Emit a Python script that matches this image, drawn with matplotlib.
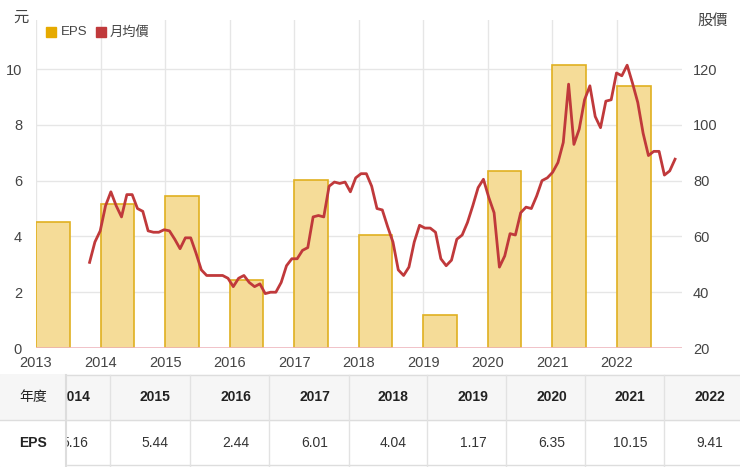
import matplotlib
matplotlib.use("Agg")
import matplotlib.pyplot as plt
from matplotlib.patches import Rectangle
import numpy as np

plt.rcParams['font.family'] = ['Liberation Sans', 'Noto Sans CJK TC', 'DejaVu Sans']

years = [2013, 2014, 2015, 2016, 2017, 2018, 2019, 2020, 2021, 2022]
eps = [4.52, 5.16, 5.44, 2.44, 6.01, 4.04, 1.17, 6.35, 10.15, 9.41]
price = [50.7, 58, 62, 71, 76, 71, 67, 75, 75, 70, 69, 62, 61.5, 61.5, 62.4, 62,
         59, 55.6, 59.5, 59.5, 54, 48, 46, 46, 46, 46, 45, 42, 45, 46, 43.5, 42,
         43, 39.5, 40, 40, 43.5, 49.5, 52, 52, 55, 56, 67, 67.5, 67, 78, 79.5, 79,
         79.5, 76, 81, 82.5, 82.5, 78, 70, 69.5, 63.5, 58, 48, 46, 49, 58, 64, 63,
         63, 61.5, 52, 49.5, 51.5, 59, 60.5, 65, 71, 77.5, 80.5, 74, 68.5, 49, 53,
         61, 60.5, 68.5, 70.5, 70, 74.5, 80, 81, 83, 86.5, 93.7, 114.6, 93, 98.5,
         109, 114, 103, 99, 108.5, 109, 118.6, 117.6, 121.4, 115, 108, 97, 89,
         90.5, 90.5, 82, 83.5, 87.7]
price_start, price_end = 2013.83, 2022.9
tbl_years = ['2014', '2015', '2016', '2017', '2018', '2019', '2020', '2021', '2022']
tbl_eps = ['5.16', '5.44', '2.44', '6.01', '4.04', '1.17', '6.35', '10.15', '9.41']

W, H = 740, 467
fig = plt.figure(figsize=(7.4, 4.67), dpi=100)
fig.patch.set_facecolor('white')

def box(l, t, r, b):
    return [l / W, 1 - b / H, (r - l) / W, (b - t) / H]

ax = fig.add_axes(box(36, 20, 682, 348))
ymax = 11.76
ax.set_ylim(0, ymax)
ax.set_xlim(2013, 2022 + (682 - 617) / 64.5)
ax.bar(np.array(years), eps, width=0.52, align='edge', color='#f5dc98',
       edgecolor='#e0b020', linewidth=1.2, zorder=2)
ax.set_yticks([0, 2, 4, 6, 8, 10])
ax.set_xticks(years)
ax.grid(True, color='#e6e6e6', linewidth=1, zorder=0)
for s in ax.spines.values():
    s.set_visible(False)
ax.axhline(0, color='#f0b8c0', linewidth=1.2, zorder=3)
ax.tick_params(length=0, labelsize=10.5, colors='#444444', pad=6)
ax.tick_params(axis='y', pad=10)

ax2 = ax.twinx()
ax2.set_ylim(20, 20 + ymax * 10)
px = np.linspace(price_start, price_end, len(price))
ax2.plot(px, price, color='#c0393b', linewidth=2, zorder=4)
ax2.set_yticks([20, 40, 60, 80, 100, 120])
for s in ax2.spines.values():
    s.set_visible(False)
ax2.tick_params(length=0, labelsize=10.5, colors='#444444', pad=8)

fig.text(13 / W, 1 - 17 / H, '元', fontsize=11, color='#444444', va='center',
         family=['Noto Sans CJK TC'])
fig.text(697 / W, 1 - 20 / H, '股價', fontsize=11, color='#444444', va='center',
         family=['Noto Sans CJK TC'])
# legend
fig.patches.append(Rectangle((46 / W, 1 - 37 / H), 10 / W, 10 / H,
                             transform=fig.transFigure, color='#e6aa00'))
fig.text(61 / W, 1 - 32 / H, 'EPS', fontsize=9.5, color='#444444', va='center')
fig.patches.append(Rectangle((96 / W, 1 - 37 / H), 10 / W, 10 / H,
                             transform=fig.transFigure, color='#c0393b'))
fig.text(110 / W, 1 - 32 / H, '月均價', fontsize=9.5, color='#444444', va='center',
         family=['Noto Sans CJK TC'])

# table
t0, t1, t2 = 375, 420, 466
fig.patches.append(Rectangle((0, 1 - t1 / H), 1, (t1 - t0) / H,
                             transform=fig.transFigure, color='#f6f6f6', zorder=1))
for y in (t0, t1, t2 - 1):
    fig.add_artist(plt.Line2D([0, 1], [1 - y / H] * 2, color='#dddddd', lw=1, zorder=2))
for xb in [110, 190, 269, 349, 427, 506, 585, 664]:
    fig.add_artist(plt.Line2D([xb / W] * 2, [1 - t0 / H, 1 - t2 / H],
                              color='#e2e2e2', lw=1, zorder=2))
centers = [75, 155, 236, 315, 393, 473, 552, 630, 710]
for c, yv, ev in zip(centers, tbl_years, tbl_eps):
    fig.text(c / W, 1 - 397 / H, yv, ha='center', va='center', fontsize=10,
             fontweight='bold', color='#222222', zorder=3)
    fig.text(c / W, 1 - 443 / H, ev, ha='center', va='center', fontsize=10,
             color='#333333', zorder=3)
# fixed first column covering clipped text
fig.patches.append(Rectangle((0, 1 - t1 / H), 66 / W, (t1 - t0) / H,
                             transform=fig.transFigure, color='#f6f6f6', zorder=4))
fig.patches.append(Rectangle((0, 1 - t2 / H), 66 / W, (t2 - t1) / H,
                             transform=fig.transFigure, color='white', zorder=4))
fig.add_artist(plt.Line2D([66 / W] * 2, [1 - t0 / H, 1 - t2 / H],
                          color='#dddddd', lw=1.5, zorder=5))
fig.add_artist(plt.Line2D([0, 66 / W], [1 - t1 / H] * 2, color='#dddddd', lw=1, zorder=5))
fig.text(33 / W, 1 - 397 / H, '年度', ha='center', va='center', fontsize=10,
         color='#222222', zorder=6, family=['Noto Sans CJK TC'])
fig.text(33 / W, 1 - 443 / H, 'EPS', ha='center', va='center', fontsize=10,
         fontweight='bold', color='#222222', zorder=6)

fig.savefig('out.png', dpi=100, facecolor='white')
